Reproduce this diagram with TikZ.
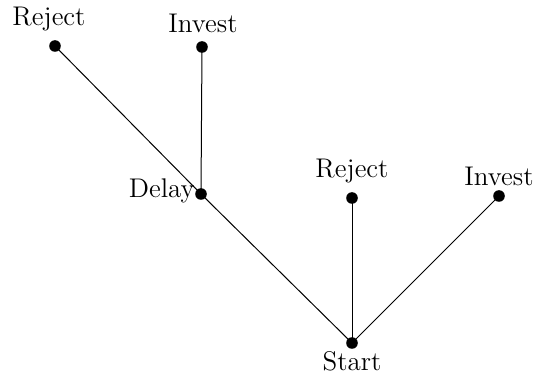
\documentclass[tikz,border=0pt]{standalone}
\begin{document}
\begin{tikzpicture}[x=0.5pt,y=-0.5pt,
  dot/.style={circle,fill=black,inner sep=0pt,minimum size=5.8pt},
  lbl/.style={inner sep=0pt,font=\fontsize{13.5}{15}\selectfont},
  edge/.style={line width=0.5pt}]
\useasboundingbox (0,0) rectangle (542,374);
\node[dot] (start) at (352,343) {};
\node[dot] (delay) at (201,194) {};
\node[dot] (rej1) at (55,46) {};
\node[dot] (inv1) at (202,47) {};
\node[dot] (rej2) at (352,198) {};
\node[dot] (inv2) at (499,196) {};
\node[lbl] (tstart) at (352,361) {Start};
\node[lbl,anchor=east] (tdelay) at (195,191) {Delay};
\node[lbl] (trej1) at (49,19) {Reject};
\node[lbl] (tinv1) at (203,23) {Invest};
\node[lbl] (trej2) at (352,171) {Reject};
\node[lbl] (tinv2) at (499,176) {Invest};
\draw[edge] (start.center) -- (delay.center) -- (rej1.center);
\draw[edge] (delay.center) -- (inv1.center);
\draw[edge] (start.center) -- (rej2.center);
\draw[edge] (start.center) -- (inv2.center);
\end{tikzpicture}
\end{document}
